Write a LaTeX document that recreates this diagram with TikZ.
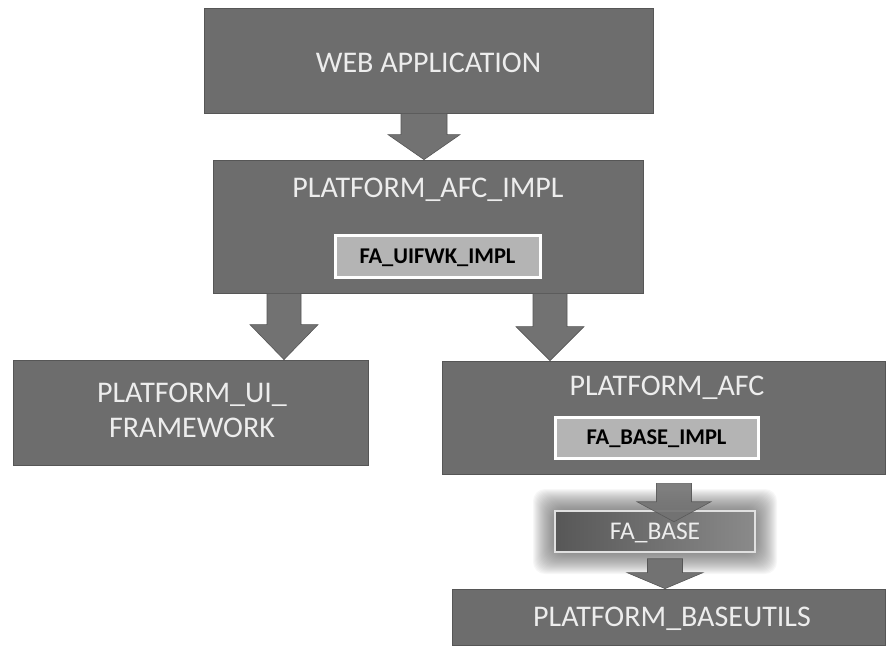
\documentclass[tikz,border=0pt]{standalone}
\usepackage{fontspec}
\setmainfont{Carlito}
\usetikzlibrary{calc}
\definecolor{boxgray}{HTML}{6D6D6D}
\definecolor{boxedge}{HTML}{565656}
\definecolor{boxtext}{HTML}{EDEDED}
\definecolor{arrgray}{HTML}{727272}
\definecolor{innerfill}{HTML}{B4B4B4}
\definecolor{glowc}{HTML}{5C5C5C}
\tikzset{
  bigbox/.style={draw=boxedge, fill=boxgray, line width=0.8pt, inner sep=0pt},
  bigtext/.style={text=boxtext, font=\fontsize{30}{34}\selectfont, inner sep=0pt, text height=19pt, text depth=0pt},
  innerbox/.style={draw=white, line width=3pt, fill=innerfill, inner sep=0pt,
     font=\bfseries\fontsize{22.5}{26}\selectfont, text=black, text height=14.5pt, text depth=0pt},
  basebox/.style={draw=white!88!black, line width=2.5pt, left color=boxgray!80!black, right color=boxgray!80!white,
     inner sep=0pt, font=\fontsize{25.5}{30}\selectfont, text=boxtext, text height=16.5pt, text depth=0pt},
  arrowstyle/.style={fill=arrgray, draw=boxedge, line width=0.6pt, line join=miter}
}
\newcommand\blockarrow[6][]{%
  \filldraw[arrowstyle,#1] ($(#2)+(-#4,0)$) -- ($(#2)+(#4,0)$) -- ($(#3)+(#4,-#6)$) -- ($(#3)+(#5,-#6)$)
    -- (#3) -- ($(#3)+(-#5,-#6)$) -- ($(#3)+(-#4,-#6)$) -- cycle;}
\begin{document}
\begin{tikzpicture}[x=1pt,y=-1pt]
\useasboundingbox (0,0) rectangle (888,662);
\fill[white] (0,0) rectangle (888,662);

% boxes
\node[bigbox, minimum width=449pt, minimum height=105pt] (web) at (428.5,60.5) {};
\node[bigtext] (webt) at ($(web.center)+(0,2)$) {WEB APPLICATION};

\node[bigbox, minimum width=430pt, minimum height=133pt] (pai) at (428,226.5) {};
\node[bigtext] (pait) at ($(pai.north)+(0,28)$) {PLATFORM\_AFC\_IMPL};
\node[innerbox, minimum width=205pt, minimum height=42pt] (uifwk) at (437.5,256) {FA\_UIFWK\_IMPL};

\node[bigbox, minimum width=355pt, minimum height=105pt] (pui) at (190.5,412.5) {};
\node[text=boxtext, font=\fontsize{30}{35}\selectfont, align=center, inner sep=0pt] (puit) at (192,410) {PLATFORM\_UI\_\\FRAMEWORK};

\node[bigbox, minimum width=443pt, minimum height=113pt] (pafc) at (663.5,417.5) {};
\node[bigtext] (pafct) at (667,386) {PLATFORM\_AFC};
\node[innerbox, minimum width=203pt, minimum height=41pt] (baseimpl) at (656.5,437.5) {FA\_BASE\_IMPL};

% glow behind FA_BASE
\foreach \i in {1,...,22} {
  \pgfmathsetmacro\d{23-\i}
  \fill[glowc, opacity=0.045, rounded corners=12pt] (555-\d,511-\d) rectangle (755+\d,552+\d);
}
\node[basebox, minimum width=200pt, minimum height=41pt] (fabase) at (655,531.5) {FA\_BASE};

\node[bigbox, minimum width=433pt, minimum height=56pt] (pbu) at (668.5,617) {};
\node[bigtext] (pbut) at (672,617) {PLATFORM\_BASEUTILS};

% connectors
\coordinate (a1s) at ($(web.south)+(-4.5,0)$);
\coordinate (a1t) at (a1s |- pai.north);
\blockarrow{a1s}{a1t}{23}{36}{25}

\coordinate (a2s) at ($(pai.south)+(-144,0)$);
\coordinate (a2t) at (a2s |- pui.north);
\blockarrow{a2s}{a2t}{17}{34}{35}

\coordinate (a3s) at ($(pai.south)+(122,0)$);
\coordinate (a3t) at (a3s |- pafc.north);
\blockarrow{a3s}{a3t}{17}{34}{34}

\coordinate (a4s) at ($(pafc.south)+(10.5,9)$);
\coordinate (a4t) at ($(a4s |- fabase.north)+(0,12)$);
\blockarrow[opacity=0.9]{a4s}{a4t}{17.5}{37}{20}

\coordinate (a5s) at ($(fabase.south)+(10,5.5)$);
\coordinate (a5t) at (a5s |- pbu.north);
\blockarrow{a5s}{a5t}{17.5}{38}{16}
\end{tikzpicture}
\end{document}
